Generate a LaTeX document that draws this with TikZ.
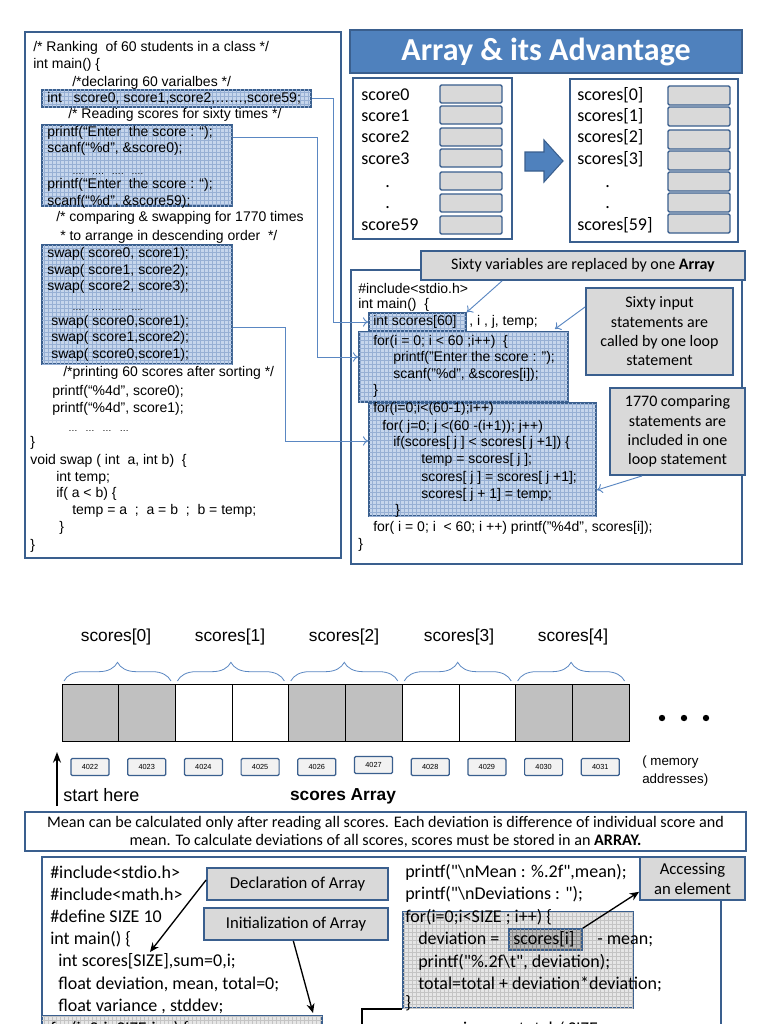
\documentclass[tikz,border=0pt]{standalone}
\usepackage{fontspec}
\setmainfont{Liberation Sans}
\newfontfamily\calfont{Carlito}
\usetikzlibrary{patterns,fit,decorations.pathreplacing,arrows.meta}
\definecolor{navy}{HTML}{3A5F8E}
\definecolor{titleblue}{HTML}{4F81BD}
\definecolor{hfill}{HTML}{C6D6EC}
\definecolor{hgrid}{HTML}{97B0D4}
\definecolor{calgray}{HTML}{D9D9D9}
\definecolor{linkblue}{HTML}{5A87C2}
\definecolor{memgray}{HTML}{C0C0C0}
\definecolor{gfill}{HTML}{E6E6E6}
\definecolor{ggrid}{HTML}{C4C4C4}
\definecolor{gfilldark}{HTML}{BFBFBF}
\begin{document}
\begin{tikzpicture}[x=0.75pt,y=-0.75pt,
  lc/.style={anchor=west,inner sep=0pt,text height=7.6pt,text depth=2.2pt,font=\fontsize{10.5}{12}\selectfont},
  cc/.style={anchor=west,inner sep=0pt,text height=9pt,text depth=2.6pt,font=\calfont\fontsize{13.5}{16}\selectfont},
  lab/.style={anchor=west,inner sep=0pt,text height=9pt,text depth=2.6pt,font=\calfont\fontsize{13.5}{16}\selectfont},
  panel/.style={draw=navy,line width=1.1pt,inner sep=0pt},
  hbox/.style={draw=navy,line width=1.1pt,inner sep=0pt,fill=hfill,postaction={pattern=grid,pattern color=hgrid}},
  gbox/.style={draw=navy,line width=1.1pt,inner sep=0pt,fill=gfill,postaction={pattern=grid,pattern color=ggrid}},
  callout/.style={draw=navy,line width=1.4pt,inner sep=0pt,fill=calgray},
  ctext/.style={inner sep=0pt,align=center,font=\calfont\fontsize{12}{14.5}\selectfont},
  cellbox/.style={draw=navy,line width=1pt,fill=calgray,rounded corners=1pt,inner sep=0pt},
  link/.style={draw=linkblue,line width=0.7pt,-{To[length=4pt,width=7pt]}},
  blk/.style={draw=black,line width=1pt,-{Stealth[length=7pt,width=6pt]}},
  mem/.style={draw=black,line width=0.6pt,inner sep=0pt},
  addr/.style={draw=navy,line width=0.9pt,fill=black!5,rounded corners=1pt,minimum width=28.5pt,minimum height=12.8pt,inner sep=0pt,font=\fontsize{5.5}{6}\selectfont},
  brc/.style={draw=linkblue,line width=0.6pt,decorate,decoration={brace,amplitude=14pt}},
  arl/.style={inner sep=0pt,font=\fontsize{13}{15}\selectfont}
]
\useasboundingbox (0,0) rectangle (768,1024);
\clip (0,0) rectangle (768,1024);
\fill[white] (0,0) rectangle (768,1024);

% ---------- left panel ----------
\node[panel, fit={(25,32) (341,558)}] (lpanel) {};
\node[hbox, fit={(42,90) (311,107)}] (decl) {};
\node[hbox, fit={(42,125) (232,206)}] (rd) {};
\node[hbox, fit={(42,245) (232,364)}] (sw) {};

\node[lc] (a1) at (33,48) {/* Ranking\ \ of 60 students in a class */};
\node[lc] (a2) at (33,65) {int main() \{};
\node[lc] (a3) at (72,83) {/*declaring 60 varialbes */};
\node[lc] (a4) at (47,99) {int\ \ \ score0, score1,score2,……,score59;};
\node[lc] (a5) at (68,115) {/* Reading scores for sixty times */};
\node[lc] (a6) at (47,133) {printf(“Enter\ \ the score : “);};
\node[lc] (a7) at (47,149) {scanf(“\%d”, \&score0);};
\node[lc, font=\fontsize{7}{8}\selectfont] (a8) at (72,171) {….\ \ \ ….\ \ \ ….\ \ \ ….};
\node[lc] (a9) at (47,185) {printf(“Enter\ \ the score : “);};
\node[lc] (a10) at (47,202) {scanf(“\%d”, \&score59);};
\node[lc] (a11) at (56,218) {/* comparing \& swapping for 1770 times};
\node[lc] (a12) at (60,237) {* to arrange in descending order\ \ */};
\node[lc] (a13) at (47,254) {swap( score0, score1);};
\node[lc] (a14) at (47,271) {swap( score1, score2);};
\node[lc] (a15) at (47,287) {swap( score2, score3);};
\node[lc, font=\fontsize{7}{8}\selectfont] (a16) at (72,307) {….\ \ \ ….\ \ \ ….\ \ \ ….};
\node[lc] (a17) at (51,322) {swap( score0,score1);};
\node[lc] (a18) at (51,338) {swap( score1,score2);};
\node[lc] (a19) at (51,355) {swap( score0,score1);};
\node[lc] (a20) at (63,373) {/*printing 60 scores after sorting */};
\node[lc] (a21) at (52,392) {printf(“\%4d”, score0);};
\node[lc] (a22) at (52,409) {printf(“\%4d”, score1);};
\node[lc, font=\fontsize{7}{8}\selectfont] (a23) at (68,428) {…\ \ \ …\ \ \ …\ \ \ …};
\node[lc] (a24) at (30,443) {\}};
\node[lc] (a25) at (30,461) {void swap ( int\ \ a, int b)\ \ \{};
\node[lc] (a26) at (56,478) {int temp;};
\node[lc] (a27) at (56,494) {if( a < b) \{};
\node[lc] (a28) at (72,511) {temp = a\ \ ;\ \ a = b\ \ ;\ \ b = temp;};
\node[lc] (a29) at (59,528) {\}};
\node[lc] (a30) at (30,546) {\}};

% ---------- title & variables/array panels ----------
\node[draw=navy,line width=1.1pt,inner sep=0pt,fill=titleblue,fit={(350,30) (742,73)}] (title) {};
\node[inner sep=0pt,text=white,font=\calfont\bfseries\fontsize{24}{28}\selectfont] (titlet) at (title.center) {Array \& its Advantage};
\node[panel, fit={(353,78) (512,239)}] (vpanel) {};
\node[panel, fit={(570,79) (738,242)}] (apanel) {};

\foreach \n/\y in {0/85,1/106,2/128,3/149,4/172,5/194,6/216}{
  \node[cellbox, fit={(440,\y) (502,\y+18)}] (vc\n) {};
}
\foreach \n/\y in {0/86,1/107,2/130,3/151,4/172,5/193,6/214}{
  \node[cellbox, fit={(668,\y) (730,\y+19)}] (ac\n) {};
}
\node[lab] (v0) at (361,96) {score0};
\node[lab] (v1) at (361,117) {score1};
\node[lab] (v2) at (361,138) {score2};
\node[lab] (v3) at (361,160) {score3};
\node[lab] (v4) at (385,183) {.};
\node[lab] (v5) at (385,204) {.};
\node[lab] (v6) at (361,226) {score59};
\node[lab] (s0) at (577,96) {scores[0]};
\node[lab] (s1) at (577,117) {scores[1]};
\node[lab] (s2) at (577,138) {scores[2]};
\node[lab] (s3) at (577,160) {scores[3]};
\node[lab] (s4) at (605,183) {.};
\node[lab] (s5) at (605,204) {.};
\node[lab] (s6) at (577,226) {scores[59]};

\draw[fill=titleblue,draw=navy,line width=0.8pt] (525,152) -- (544,152) -- (544,140) -- (563,161)
   -- (544,182) -- (544,171) -- (525,171) -- cycle;

% ---------- right code panel ----------
\node[panel, fit={(351,270) (742,564)}] (rpanel) {};
\node[hbox, fit={(359,332) (568,402)}] (rfor) {};
\node[hbox, fit={(369,403) (596,516)}] (rsort) {};
\node[hbox, fit={(369,313) (466,331)}] (rdecl) {};

\node[lc] (b1) at (358,290) {\#include<stdio.h>};
\node[lc] (b2) at (358,305) {int main()\ \ \{};
\node[lc] (b3) at (373,322) {int scores[60]};
\node[lc] (b4) at (469,322) {, i , j, temp;};
\node[lc] (b5) at (373,342) {for(i = 0; i < 60 ;i++)\ \ \{};
\node[lc] (b6) at (393,358) {printf("Enter the score : ");};
\node[lc] (b7) at (393,375) {scanf("\%d", \&scores[i]);};
\node[lc] (b8) at (373,391) {\}};
\node[lc] (b9) at (373,409) {for(i=0;i<(60-1);i++)};
\node[lc] (b10) at (382,427) {for( j=0; j <(60 -(i+1)); j++)};
\node[lc] (b11) at (393,443) {if(scores[ j ] < scores[ j +1]) \{};
\node[lc] (b12) at (421,460) {temp = scores[ j ];};
\node[lc] (b13) at (421,478) {scores[ j ] = scores[ j +1];};
\node[lc] (b14) at (421,495) {scores[ j + 1] = temp;};
\node[lc] (b15) at (395,511) {\}};
\node[lc] (b16) at (373,528) {for( i = 0; i\ \ < 60; i ++) printf("\%4d", scores[i]);};
\node[lc] (b17) at (358,545) {\}};

\node[callout, fit={(421,251) (745,280)}] (c1) {};
\node[ctext] (c1t) at (c1.center) {Sixty variables are replaced by one \textbf{Array}};
\node[callout, fit={(586,288) (733,375)}] (c2) {};
\node[ctext] (c2t) at (c2.center) {Sixty input\\statements are\\called by one loop\\statement};
\node[callout, fit={(610,388) (745,475)}] (c3) {};
\node[ctext] (c3t) at (c3.center) {1770 comparing\\statements are\\included in one\\loop statement};

\coordinate (c2tip) at (555,329);
\coordinate (c3tip) at (597,490);
\draw[link] ([xshift=-60.75pt]c1.south) -- (rdecl.north east);
\draw[link] ([yshift=18.4pt]c2.west) -- (c2tip);
\draw[link] ([xshift=-26.6pt]c3.south) -- (c3tip);

% connectors left -> right
\draw[link] (decl.east) -- ++(22,0) |- (rdecl.west);
\draw[link] ([yshift=21.4pt]rd.east) -- ++(85,0) |- ([yshift=7.5pt]rfor.west);
\draw[link] ([yshift=-16.9pt]sw.east) -- ++(53,0) |- ([yshift=13.9pt]rsort.west);

% ---------- memory diagram ----------
\foreach \k/\x in {0/116,1/230,2/344,3/459,4/573}{
  \node[arl] (sl\k) at (\x,637) {scores[\k]};
  \draw[brc] ({64+113.4*\k},681) -- ({171+113.4*\k},681);
}
\foreach \i in {0,1,4,5,8,9}{
  \node[mem, fill=memgray, fit={({62+56.7*\i},684) ({62+56.7*(\i+1)},741)}] (m\i) {};
}
\foreach \i in {2,3,6,7}{
  \node[mem, fill=white, fit={({62+56.7*\i},684) ({62+56.7*(\i+1)},741)}] (m\i) {};
}
\foreach \x in {662,684,706}{
  \fill[black] (\x,718) circle[radius=3.2];
}
\foreach \i/\a in {0/4022,1/4023,2/4024,3/4025,4/4026,6/4028,7/4029,8/4030,9/4031}{
  \node[addr] (ad\i) at ({90+56.7*\i},767) {\a};
}
\node[addr] (ad5) at ({90+56.7*5},765) {4027};
\node[anchor=west,inner sep=0pt,align=left,font=\fontsize{10}{13}\selectfont] (memtxt) at (642,771) {( memory\\addresses)};
\coordinate (upbot) at (57,806);
\coordinate (uptop) at (57,752);
\draw[draw=black,line width=1.2pt,-{Stealth[length=8pt,width=6pt]}] (upbot) -- (uptop);
\node[anchor=west,inner sep=0pt,font=\fontsize{13.5}{16}\selectfont] (start) at (63,795) {start here};
\node[inner sep=0pt,font=\bfseries\fontsize{13}{16}\selectfont] (sarr) at (343,796) {scores Array};

% ---------- mean box ----------
\node[panel, fit={(25,812) (746,851)}] (meanbox) {};
\node[inner sep=0pt, align=center, font=\calfont\fontsize{12.1}{13.6}\selectfont] (meant) at (meanbox.center)
  {Mean can be calculated only after reading all scores. Each deviation is difference of individual score and\\
   mean. To calculate deviations of all scores, scores must be stored in an \textbf{ARRAY.}};

% ---------- bottom code ----------
\node[panel, fit={(42,857) (721,1060)}] (codebox) {};
\node[gbox, fit={(42,1016) (322,1045)}] (initloop) {};
\node[gbox, fit={(403,912) (633,1008)}] (devloop) {};
\node[draw=navy,line width=1.1pt,inner sep=0pt,fill=gfilldark,postaction={pattern=grid,pattern color=black!45},
      fit={(509,929) (582,950)}] (acc) {};

\node[cc] (d1) at (50,874) {\#include<stdio.h>};
\node[cc] (d2) at (50,896) {\#include<math.h>};
\node[cc] (d3) at (50,918) {\#define SIZE 10};
\node[cc] (d4) at (50,940) {int main() \{};
\node[cc] (d5) at (58,962) {int scores[SIZE],sum=0,i;};
\node[cc] (d6) at (58,985) {float deviation, mean, total=0;};
\node[cc] (d7) at (58,1007) {float variance , stddev;};
\node[cc] (d8) at (50,1030) {for(i=0;i<SIZE;i++) \{};

\node[cc] (e1) at (405,873) {printf("\textbackslash nMean : \%.2f",mean);};
\node[cc] (e2) at (405,895) {printf("\textbackslash nDeviations : ");};
\node[cc] (e3) at (405,918) {for(i=0;i<SIZE ; i++) \{};
\node[cc] (e4) at (418,940) {deviation =};
\node[cc] (e5) at (513,940) {scores[i]};
\node[cc] (e6) at (597,940) {- mean;};
\node[cc] (e7) at (418,963) {printf("\%.2f\textbackslash t", deviation);};
\node[cc] (e8) at (418,985) {total=total + deviation*deviation;};
\node[cc] (e9) at (405,1004) {\}};
\node[cc] (e10) at (440,1030) {variance = total / SIZE;};

\node[callout, fit={(207,868) (388,900)}] (cdecl) {};
\node[ctext, font=\calfont\fontsize{12.5}{15}\selectfont] (cdeclt) at (cdecl.center) {Declaration of Array};
\node[callout, fit={(204,908) (388,940)}] (cinit) {};
\node[ctext, font=\calfont\fontsize{12.5}{15}\selectfont] (cinitt) at (cinit.center) {Initialization of Array};
\node[callout, fit={(640,857) (745,900)}] (cacc) {};
\node[ctext, font=\calfont\fontsize{12.5}{15}\selectfont] (cacct) at (cacc.center) {Accessing\\an element};

\coordinate (declTip) at (150,952);
\coordinate (initTip) at (313,1013);
\draw[blk] ([yshift=3pt]cdecl.west) -- (declTip);
\draw[blk] ([xshift=-2pt]cinit.south) -- (initTip);
\draw[blk] (acc.north east) -- ([yshift=-10pt]cacc.west);

\coordinate (lbot) at (362,1030);
\coordinate (lcorner) at (362,1009);
\coordinate (lend) at (402,1009);
\draw[black,line width=1pt] (lbot) -- (lcorner) -- (lend);
\end{tikzpicture}
\end{document}
